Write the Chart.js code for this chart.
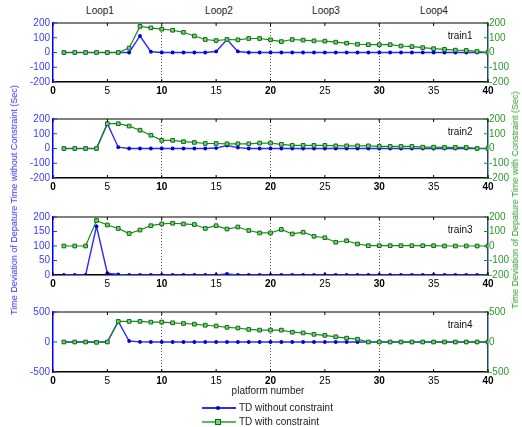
<!DOCTYPE html>
<html>
<head>
<meta charset="utf-8">
<script src="https://cdn.jsdelivr.net/npm/chart.js@4.4.1/dist/chart.umd.min.js"></script>
<style>
  body { margin: 0; background: #fff; }
  #wrap { position: relative; width: 522px; height: 427px; overflow: hidden; font-family: "Liberation Sans", Arial, sans-serif; }
  canvas { position: absolute; left: 0; }
  .txt { position: absolute; font-size: 10px; color: #222; white-space: nowrap; }
  .loop { transform: translateX(-50%); }
  .vtitle { position: absolute; font-size: 9px; white-space: nowrap; transform: translate(-50%, -50%) rotate(-90deg); }
  .lgline { position: absolute; height: 2px; width: 34px; }
  .lgmark { position: absolute; }
</style>
</head>
<body>
<div id="wrap">
  <div class="txt loop" style="left:100px; top:5px;">Loop1</div>
  <div class="txt loop" style="left:219px; top:5px;">Loop2</div>
  <div class="txt loop" style="left:326px; top:5px;">Loop3</div>
  <div class="txt loop" style="left:434px; top:5px;">Loop4</div>

  <canvas id="train1" width="522" height="83" style="top:13px;"></canvas>
  <canvas id="train2" width="522" height="83" style="top:109px;"></canvas>
  <canvas id="train3" width="522" height="82" style="top:207px;"></canvas>
  <canvas id="train4" width="522" height="84" style="top:302px;"></canvas>

  <div class="vtitle" style="left:14px; top:200px; color:#3030ff;">Time Deviation of Depature Time without Constraint (Sec)</div>
  <div class="vtitle" style="left:515px; top:200px; color:#2a9a2a;">Time Deviation of Depature Time with Constraint (Sec)</div>

  <div class="txt" style="left:268px; top:385px; transform:translateX(-50%);">platform number</div>

  <div class="lgline" style="left:202px; top:407px; background:#2b2bff;"></div>
  <div class="lgmark" style="left:216px; top:406px; width:4px; height:4px; border-radius:2px; background:#0000d0;"></div>
  <div class="txt" style="left:239px; top:402px;">TD without constraint</div>
  <div class="lgline" style="left:202px; top:421px; background:#5cb85c;"></div>
  <div class="lgmark" style="left:215px; top:419px; width:4px; height:4px; border:1px solid #0a6e0a; background:#7ccf7c;"></div>
  <div class="txt" style="left:239px; top:416px;">TD with constraint</div>
</div>
<script>
const platforms = [1, 2, 3, 4, 5, 6, 7, 8, 9, 10, 11, 12, 13, 14, 15, 16, 17, 18, 19, 20,
                   21, 22, 23, 24, 25, 26, 27, 28, 29, 30, 31, 32, 33, 34, 35, 36, 37, 38, 39, 40];
const xTicks = [0, 5, 10, 15, 20, 25, 30, 35, 40];
const loopLines = [10, 20, 30];
const ticks200 = [-200, -100, 0, 100, 200];
const ticks0to200 = [0, 50, 100, 150, 200];
const ticks500 = [-500, 0, 500];

const train1Without = [0, 0, 0, 0, 0, 0, 0, 112, 5, 0, 0, 0, 0, 0, 7, 88, 7, 0, 0, 0,
                       0, 0, 0, 0, 0, 0, 0, 0, 0, 0, 0, 0, 0, 0, 0, 0, 0, 0, 0, 0];
const train1With = [0, 0, 0, 0, 0, 0, 30, 177, 167, 158, 151, 137, 112, 88, 81, 88, 86, 95, 95, 86,
                    74, 88, 84, 79, 77, 70, 63, 56, 53, 53, 53, 44, 40, 33, 26, 21, 16, 14, 7, 0];

const train2Without = [0, 0, 0, 0, 168, 9, 0, 0, 0, 0, 0, 0, 0, 0, 3, 20, 6, 0, 0, 0,
                       0, 0, 0, 0, 0, 0, 0, 0, 0, 0, 0, 0, 0, 0, 0, 0, 0, 0, 0, 0];
const train2With = [0, 0, 0, 0, 168, 168, 152, 124, 90, 55, 55, 46, 41, 34, 34, 32, 32, 32, 37, 37,
                    28, 21, 21, 21, 21, 18, 18, 18, 18, 14, 14, 14, 14, 9, 9, 7, 7, 7, 0, 0];

const train3Without = [0, 0, 0, 168, 6, 2, 0, 0, 0, 0, 0, 0, 0, 0, 0, 4, 0, 0, 0, 0,
                       0, 0, 0, 0, 0, 0, 0, 0, 0, 0, 0, 0, 0, 0, 0, 0, 0, 0, 0, 0];
const train3With = [0, 0, 0, 176, 145, 121, 86, 110, 140, 152, 157, 152, 148, 121, 140, 117, 131, 107, 90, 90,
                    114, 83, 95, 67, 57, 26, 36, 14, 2, 2, 2, 2, 2, 2, 2, 0, 0, 0, 0, 0];

const train4Without = [0, 0, 0, 0, 0, 343, 17, 2, 0, 0, 0, 0, 0, 0, 0, 0, 0, 0, 0, 0,
                       0, 0, 0, 0, 0, 0, 0, 0, 0, 0, 0, 0, 0, 0, 0, 0, 0, 0, 0, 0];
const train4With = [0, 0, 0, -6, 0, 343, 343, 343, 331, 331, 320, 308, 297, 279, 267, 244, 233, 209, 198, 198,
                    198, 163, 151, 128, 110, 87, 64, 47, 0, 0, 0, 0, 0, 0, 0, 0, 0, 0, 0, 0];

const FONT = '"Liberation Sans", Arial, sans-serif';

// top border, small inward ticks and the train name
const framePlugin = {
    id: 'frame',
    afterDraw(chart, args, opts) {
        const a = chart.chartArea;
        const ctx = chart.ctx;
        ctx.save();
        ctx.lineWidth = 1.2;
        ctx.strokeStyle = '#000';
        ctx.beginPath();
        ctx.moveTo(a.left, a.top);
        ctx.lineTo(a.right, a.top);
        ctx.stroke();

        ctx.lineWidth = 1;
        chart.scales.x.ticks.forEach(t => {
            const px = chart.scales.x.getPixelForValue(t.value);
            ctx.beginPath();
            ctx.moveTo(px, a.bottom);
            ctx.lineTo(px, a.bottom - 3);
            ctx.moveTo(px, a.top);
            ctx.lineTo(px, a.top + 3);
            ctx.stroke();
        });
        ctx.strokeStyle = '#3030ff';
        chart.scales.y.ticks.forEach(t => {
            const py = chart.scales.y.getPixelForValue(t.value);
            ctx.beginPath();
            ctx.moveTo(a.left, py);
            ctx.lineTo(a.left + 4, py);
            ctx.stroke();
        });
        ctx.strokeStyle = '#1f8f1f';
        chart.scales.y1.ticks.forEach(t => {
            const py = chart.scales.y1.getPixelForValue(t.value);
            ctx.beginPath();
            ctx.moveTo(a.right, py);
            ctx.lineTo(a.right - 4, py);
            ctx.stroke();
        });

        ctx.fillStyle = '#111';
        ctx.font = '10px ' + FONT;
        ctx.textAlign = 'center';
        ctx.textBaseline = 'middle';
        ctx.fillText(opts.name, a.left + 0.936 * (a.right - a.left), a.top + 13);
        ctx.restore();
    }
};

function buildChart(id, without, withC, left, leftTicks, right, rightTicks) {
    const ctx = document.getElementById(id).getContext('2d');
    return new Chart(ctx, {
        type: 'line',
        data: {
            datasets: [{
                label: 'TD without constraint',
                data: platforms.map((p, i) => ({x: p, y: without[i]})),
                yAxisID: 'y',
                borderColor: '#2b2bff',
                borderWidth: 1.4,
                pointRadius: 1.9,
                pointBackgroundColor: '#0000d8',
                pointBorderWidth: 0,
                order: 2
            }, {
                label: 'TD with constraint',
                data: platforms.map((p, i) => ({x: p, y: withC[i]})),
                yAxisID: 'y1',
                borderColor: '#1a8a1a',
                borderWidth: 1.2,
                pointStyle: 'rect',
                pointRadius: 2.6,
                pointBackgroundColor: '#7ccf7c',
                pointBorderColor: '#0a6e0a',
                pointBorderWidth: 1,
                order: 1
            }]
        },
        options: {
            responsive: false,
            animation: false,
            layout: { padding: { top: 10, left: 0, right: 0, bottom: 0 } },
            plugins: {
                legend: { display: false },
                tooltip: { enabled: false },
                frame: { name: id }
            },
            scales: {
                x: {
                    type: 'linear',
                    min: 0,
                    max: 40,
                    afterBuildTicks: s => { s.ticks = xTicks.map(v => ({value: v})); },
                    ticks: {
                        color: '#000',
                        padding: 3,
                        autoSkip: false,
                        maxRotation: 0,
                        font: c => ({ size: 10, family: FONT, weight: c.tick && c.tick.value % 10 === 0 ? 'bold' : 'normal' })
                    },
                    grid: {
                        drawTicks: false,
                        color: c => c.tick && loopLines.includes(c.tick.value) ? '#555' : 'rgba(0,0,0,0)',
                        lineWidth: 1
                    },
                    border: { color: '#000', width: 1.5, dash: [1, 2] },
                    afterFit: s => { s.height = 14; }
                },
                y: {
                    position: 'left',
                    min: left[0],
                    max: left[1],
                    afterBuildTicks: s => { s.ticks = leftTicks.map(v => ({value: v})); },
                    ticks: { autoSkip: false, color: '#3c3cff', padding: 3, font: { size: 10, family: FONT } },
                    grid: { display: false, drawTicks: false },
                    border: { color: '#0000ff', width: 1.5 },
                    afterFit: s => { s.width = 53; }
                },
                y1: {
                    position: 'right',
                    min: right[0],
                    max: right[1],
                    afterBuildTicks: s => { s.ticks = rightTicks.map(v => ({value: v})); },
                    ticks: { autoSkip: false, color: '#2a9a2a', padding: 1, font: { size: 10, family: FONT } },
                    grid: { display: false, drawTicks: false },
                    border: { color: '#1f4f5f', width: 1.5 },
                    afterFit: s => { s.width = 34; }
                }
            }
        },
        plugins: [framePlugin]
    });
}

buildChart('train1', train1Without, train1With, [-200, 200], ticks200, [-200, 200], ticks200);
buildChart('train2', train2Without, train2With, [-200, 200], ticks200, [-200, 200], ticks200);
buildChart('train3', train3Without, train3With, [0, 200], ticks0to200, [-200, 200], ticks200);
buildChart('train4', train4Without, train4With, [-500, 500], ticks500, [-500, 500], ticks500);
</script>
</body>
</html>
